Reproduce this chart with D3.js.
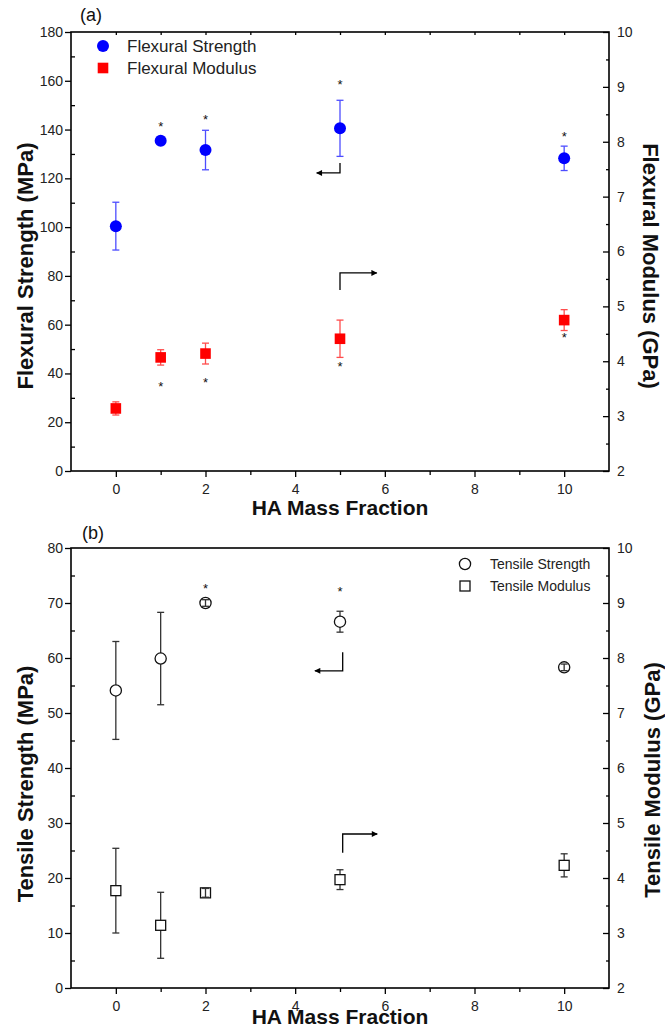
<!DOCTYPE html>
<html><head><meta charset="utf-8">
<script src="https://cdn.jsdelivr.net/npm/d3@7"></script>
<style>
body{margin:0;background:#fff}
svg{display:block}
text{font-family:"Liberation Sans",Arial,Helvetica,sans-serif}
</style>
</head><body>
<svg id="chart" width="665" height="1036"></svg>
<script>
// ---------- data ----------
const haFraction = [0, 1, 2, 5, 10];
const xTickValues = [0, 2, 4, 6, 8, 10];
const xMinorTicks = [1, 3, 5, 7, 9];

const flexStrength     = [100.4, 135.4, 131.6, 140.5, 128.2];
const flexStrengthErr  = [9.8, 1.5, 8.1, 11.5, 5.0];
const flexStrengthStar = [null, 142.3, 145.5, 159.5, 138.2];
const flexModulus      = [3.14, 4.07, 4.14, 4.41, 4.75];
const flexModulusErr   = [0.12, 0.14, 0.19, 0.34, 0.19];
const flexModulusStar  = [null, 3.60, 3.66, 3.96, 4.48];

const tenStrength      = [54.1, 59.9, 70.0, 66.6, 58.3];
const tenStrengthErr   = [8.9, 8.4, 0.6, 1.9, 0.6];
const tenStrengthStar  = [null, null, 73.1, 72.7, null];
const tenModulus       = [3.77, 3.14, 3.73, 3.97, 4.23];
const tenModulusErr    = [0.77, 0.60, 0.08, 0.18, 0.21];

const flexLeftTicks  = [0, 20, 40, 60, 80, 100, 120, 140, 160, 180];
const flexLeftMinor  = [10, 30, 50, 70, 90, 110, 130, 150, 170];
const tenLeftTicks   = [0, 10, 20, 30, 40, 50, 60, 70, 80];
const tenLeftMinor   = [5, 15, 25, 35, 45, 55, 65, 75];
const rightTicks     = [2, 3, 4, 5, 6, 7, 8, 9, 10];
const rightMinor     = [2.5, 3.5, 4.5, 5.5, 6.5, 7.5, 8.5, 9.5];

// ---------- drawing ----------
const svg = d3.select('#chart');
const FONT = '"Liberation Sans",Arial,Helvetica,sans-serif';
const defs = svg.append('defs');
defs.append('marker').attr('id', 'arrowhead')
  .attr('viewBox', '0 0 10 10').attr('refX', 9).attr('refY', 5)
  .attr('markerWidth', 9).attr('markerHeight', 6).attr('markerUnits', 'userSpaceOnUse')
  .attr('orient', 'auto')
  .append('path').attr('d', 'M0,0 L10,5 L0,10 z').attr('fill', '#000');

function drawMarker(sel, s, cx, cy) {
  const sw = s.hollow ? 1.3 : 0;
  if (s.shape === 'circle') {
    sel.append('circle').attr('cx', cx).attr('cy', cy).attr('r', s.size)
      .attr('fill', s.fill).attr('stroke', s.stroke).attr('stroke-width', sw);
  } else {
    sel.append('rect').attr('x', cx - s.size).attr('y', cy - s.size)
      .attr('width', 2 * s.size).attr('height', 2 * s.size)
      .attr('fill', s.fill).attr('stroke', s.stroke).attr('stroke-width', sw);
  }
}

function drawPanel(cfg) {
  const left = 71, right = 609;
  const x = d3.scaleLinear().domain([-1, 11]).range([left, right]);
  const yL = d3.scaleLinear().domain(cfg.leftDomain).range([cfg.bottom, cfg.top]);
  const yR = d3.scaleLinear().domain([2, 10]).range([cfg.bottom, cfg.top]);
  const g = svg.append('g');

  function styleAxis(sel) {
    sel.select('.domain').remove();
    sel.selectAll('.tick line').attr('stroke', '#000').attr('stroke-width', 1.3);
    sel.selectAll('.tick text').attr('fill', '#222').style('font-size', '14px').style('font-family', FONT);
  }

  // bottom axis
  g.append('g').attr('transform', `translate(0,${cfg.bottom})`)
    .call(d3.axisBottom(x).tickValues(xTickValues).tickSize(6).tickPadding(7).tickFormat(d3.format('d')))
    .call(styleAxis);
  g.append('g').attr('transform', `translate(0,${cfg.bottom})`)
    .call(d3.axisBottom(x).tickValues(xMinorTicks).tickSize(4).tickFormat(''))
    .call(styleAxis);
  if (cfg.topTicks) {
    g.append('g').attr('transform', `translate(0,${cfg.top})`)
      .call(d3.axisTop(x).tickValues(xTickValues.concat(xMinorTicks)).tickSize(-3).tickFormat(''))
      .call(styleAxis);
  }
  // left axis
  g.append('g').attr('transform', `translate(${left},0)`)
    .call(d3.axisLeft(yL).tickValues(cfg.leftTicks).tickSize(6).tickPadding(2).tickFormat(d3.format('d')))
    .call(styleAxis);
  g.append('g').attr('transform', `translate(${left},0)`)
    .call(d3.axisLeft(yL).tickValues(cfg.leftMinor).tickSize(-4).tickFormat(''))
    .call(styleAxis);
  // right axis
  g.append('g').attr('transform', `translate(${right},0)`)
    .call(d3.axisRight(yR).tickValues(rightTicks).tickSize(-6).tickPadding(8).tickFormat(d3.format('d')))
    .call(styleAxis);
  g.append('g').attr('transform', `translate(${right},0)`)
    .call(d3.axisRight(yR).tickValues(rightMinor).tickSize(-3).tickFormat(''))
    .call(styleAxis);

  // frame
  g.append('rect').attr('x', left).attr('y', cfg.top)
    .attr('width', right - left).attr('height', cfg.bottom - cfg.top)
    .attr('fill', 'none').attr('stroke', '#000').attr('stroke-width', 1.6);

  // series
  cfg.series.forEach(s => {
    const y = s.axis === 'left' ? yL : yR;
    const sg = g.append('g');
    const pts = haFraction.map((h, i) => ({h, v: s.values[i], e: s.errors[i], star: s.stars ? s.stars[i] : null}));
    const drawBars = (sel, data) => {
      const eb = sel.selectAll(null).data(data).enter().append('g')
        .attr('stroke', s.errColor).attr('stroke-width', 1.3).attr('fill', 'none');
      eb.append('line').attr('x1', d => x(d.h)).attr('x2', d => x(d.h))
        .attr('y1', d => y(d.v - d.e)).attr('y2', d => y(d.v + d.e));
      eb.append('line').attr('x1', d => x(d.h) - 3.5).attr('x2', d => x(d.h) + 3.5)
        .attr('y1', d => y(d.v + d.e)).attr('y2', d => y(d.v + d.e));
      eb.append('line').attr('x1', d => x(d.h) - 3.5).attr('x2', d => x(d.h) + 3.5)
        .attr('y1', d => y(d.v - d.e)).attr('y2', d => y(d.v - d.e));
    };
    drawBars(sg.append('g'), pts);
    const mg = sg.append('g');
    pts.forEach(d => drawMarker(mg, s, x(d.h), y(d.v)));
    // error bars shorter than the marker are drawn on top (visible inside hollow symbols)
    if (s.hollow) {
      drawBars(sg.append('g'), pts.filter(d => Math.abs(y(d.v) - y(d.v + d.e)) < s.size));
    }
    // significance stars
    sg.selectAll(null).data(pts.filter(d => d.star != null)).enter().append('text')
      .attr('x', d => x(d.h)).attr('y', d => y(d.star) + 7.5)
      .attr('text-anchor', 'middle').style('font-size', '13px').attr('fill', '#111').text('*');
  });

  // arrows (data-space annotations)
  cfg.arrows.forEach(a => {
    const y = a.axis === 'left' ? yL : yR;
    g.append('path')
      .attr('d', `M${x(a.x0)},${y(a.y0)} L${x(a.x0)},${y(a.y1)} L${x(a.x1)},${y(a.y1)}`)
      .attr('fill', 'none').attr('stroke', '#000').attr('stroke-width', 1.3)
      .attr('marker-end', 'url(#arrowhead)');
  });

  // legend
  cfg.legend.items.forEach((it, i) => {
    const cy = cfg.legend.y + i * cfg.legend.dy;
    drawMarker(g, it.series, cfg.legend.x, cy);
    g.append('text').attr('x', cfg.legend.tx).attr('y', cy + cfg.legend.fs * 0.36)
      .style('font-size', cfg.legend.fs + 'px').attr('fill', '#222').text(it.label);
  });

  // panel label
  g.append('text').attr('x', cfg.tag.x).attr('y', cfg.tag.y).style('font-size', '18px').attr('fill', '#111').text(cfg.tag.text);

  // axis titles
  g.append('text').attr('x', (left + right) / 2).attr('y', cfg.xTitleY)
    .attr('text-anchor', 'middle').style('font-size', '21px').style('font-weight', 'bold').attr('fill', '#111')
    .text('HA Mass Fraction');
  g.append('text')
    .attr('transform', `translate(${cfg.leftTitle.x},${cfg.leftTitle.y}) rotate(-90)`)
    .attr('text-anchor', 'middle').style('font-size', '22px').style('font-weight', 'bold').attr('fill', '#111')
    .text(cfg.leftTitle.text);
  g.append('text')
    .attr('transform', `translate(${cfg.rightTitle.x},${cfg.rightTitle.y}) rotate(${cfg.rightTitle.rot})`)
    .attr('text-anchor', 'middle').style('font-size', '22px').style('font-weight', 'bold').attr('fill', '#111')
    .text(cfg.rightTitle.text);
}

const flexS = {values: flexStrength, errors: flexStrengthErr, stars: flexStrengthStar, axis: 'left', shape: 'circle', size: 6, fill: '#0000ff', stroke: 'none', hollow: false, errColor: '#4d4dff'};
const flexM = {values: flexModulus, errors: flexModulusErr, stars: flexModulusStar, axis: 'right', shape: 'square', size: 5.3, fill: '#ff0000', stroke: 'none', hollow: false, errColor: '#ff4d4d'};
const tenS = {values: tenStrength, errors: tenStrengthErr, stars: tenStrengthStar, axis: 'left', shape: 'circle', size: 5.6, fill: '#fff', stroke: '#111', hollow: true, errColor: '#333'};
const tenM = {values: tenModulus, errors: tenModulusErr, stars: null, axis: 'right', shape: 'square', size: 5, fill: '#fff', stroke: '#111', hollow: true, errColor: '#333'};

drawPanel({
  top: 32, bottom: 471, leftDomain: [0, 180], leftTicks: flexLeftTicks, leftMinor: flexLeftMinor, topTicks: true,
  series: [flexS, flexM],
  arrows: [
    {axis: 'left', x0: 5, y0: 126.3, y1: 122.2, x1: 4.48},
    {axis: 'right', x0: 5, y0: 5.30, y1: 5.61, x1: 5.82}
  ],
  legend: {x: 103, y: 46, dy: 22, tx: 127, fs: 17, items: [{series: flexS, label: 'Flexural Strength'}, {series: flexM, label: 'Flexural Modulus'}]},
  tag: {x: 80, y: 21, text: '(a)'},
  xTitleY: 515,
  leftTitle: {x: 33, y: 266, text: 'Flexural Strength (MPa)'},
  rightTitle: {x: 643, y: 266, rot: 90, text: 'Flexural Modulus (GPa)'}
});

drawPanel({
  top: 548, bottom: 988, leftDomain: [0, 80], leftTicks: tenLeftTicks, leftMinor: tenLeftMinor, topTicks: false,
  series: [tenS, tenM],
  arrows: [
    {axis: 'left', x0: 5.06, y0: 61.06, y1: 57.66, x1: 4.44},
    {axis: 'right', x0: 5.06, y0: 4.46, y1: 4.80, x1: 5.83}
  ],
  legend: {x: 465, y: 564, dy: 22, tx: 490, fs: 14, items: [{series: tenS, label: 'Tensile Strength'}, {series: tenM, label: 'Tensile Modulus'}]},
  tag: {x: 82, y: 539, text: '(b)'},
  xTitleY: 1024,
  leftTitle: {x: 33, y: 784, text: 'Tensile Strength (MPa)'},
  rightTitle: {x: 660, y: 780, rot: -90, text: 'Tensile Modulus (GPa)'}
});
</script>
</body></html>
